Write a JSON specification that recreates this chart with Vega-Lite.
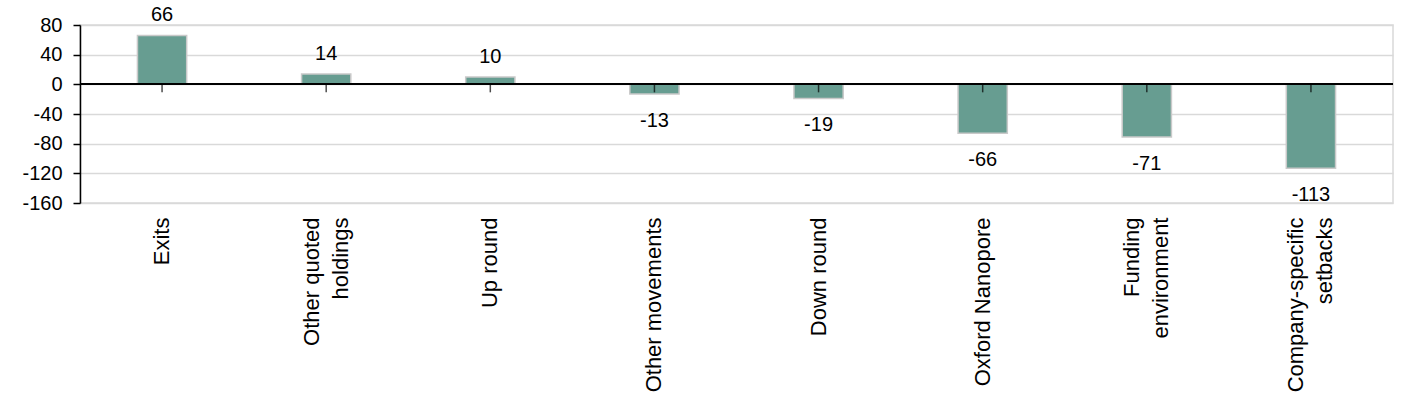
{
  "$schema": "https://vega.github.io/schema/vega-lite/v6.json",
  "autosize": "none",
  "padding": {"left": 80, "top": 25, "right": 10, "bottom": 195},
  "width": 1313,
  "height": 178,
  "background": "white",
  "config": {
    "view": {"stroke": "#d9d9d9", "strokeWidth": 1.5},
    "font": "Liberation Sans",
    "axis": {"labelFont": "Liberation Sans", "labelColor": "black"}
  },
  "data": {
    "values": [
      {"category": "Exits", "value": 66},
      {"category": "Other quoted holdings", "value": 14},
      {"category": "Up round", "value": 10},
      {"category": "Other movements", "value": -13},
      {"category": "Down round", "value": -19},
      {"category": "Oxford Nanopore", "value": -66},
      {"category": "Funding environment", "value": -71},
      {"category": "Company-specific setbacks", "value": -113}
    ]
  },
  "encoding": {
    "x": {
      "field": "category",
      "type": "nominal",
      "sort": null,
      "scale": {"paddingInner": 0.7, "paddingOuter": 0.35},
      "axis": {
        "title": null,
        "domain": false,
        "ticks": false,
        "labelAngle": 270,
        "labelAlign": "right",
        "labelBaseline": "middle",
        "labelPadding": 14,
        "labelFontSize": 22,
        "labelLineHeight": 29,
        "labelLimit": 300,
        "labelOverlap": false,
        "labelOffset": {"condition": {"test": "datum.value == 'Other quoted holdings' || datum.value == 'Funding environment' || datum.value == 'Company-specific setbacks'", "value": -14.5}, "value": 0},
        "labelExpr": "datum.label == 'Other quoted holdings' ? ['Other quoted', 'holdings'] : datum.label == 'Funding environment' ? ['Funding', 'environment'] : datum.label == 'Company-specific setbacks' ? ['Company-specific', 'setbacks'] : datum.label"
      }
    },
    "y": {
      "field": "value",
      "type": "quantitative",
      "scale": {"domain": [-160, 80], "nice": false},
      "axis": {
        "title": null,
        "values": [-160, -120, -80, -40, 0, 40, 80],
        "labelOverlap": false,
        "labelExpr": "'' + datum.value",
        "domainColor": "black",
        "domainWidth": 1.5,
        "tickColor": "black",
        "tickWidth": 1.5,
        "tickSize": 7,
        "labelFontSize": 20,
        "labelPadding": 11,
        "gridColor": "#d9d9d9",
        "gridWidth": 1.5
      }
    }
  },
  "layer": [
    {
      "mark": {"type": "bar", "color": "#679d91", "stroke": "#c9c9c9", "strokeWidth": 1.5}
    },
    {
      "mark": {"type": "rule", "color": "black", "strokeWidth": 1.5},
      "encoding": {
        "x": null,
        "y": {
          "datum": 0,
          "type": "quantitative",
          "scale": {"domain": [-160, 80], "nice": false},
          "axis": {
            "title": null,
            "values": [-160, -120, -80, -40, 0, 40, 80],
            "labelOverlap": false,
            "labelExpr": "'' + datum.value",
            "domainColor": "black",
            "domainWidth": 1.5,
            "tickColor": "black",
            "tickWidth": 1.5,
            "tickSize": 7,
            "labelFontSize": 20,
            "labelPadding": 11,
            "gridColor": "#d9d9d9",
            "gridWidth": 1.5
          }
        }
      }
    },
    {
      "mark": {"type": "tick", "orient": "vertical", "color": "black", "thickness": 1.5, "size": 8, "yOffset": 4},
      "encoding": {
        "y": {
          "datum": 0,
          "type": "quantitative",
          "scale": {"domain": [-160, 80], "nice": false},
          "axis": {
            "title": null,
            "values": [-160, -120, -80, -40, 0, 40, 80],
            "labelOverlap": false,
            "labelExpr": "'' + datum.value",
            "domainColor": "black",
            "domainWidth": 1.5,
            "tickColor": "black",
            "tickWidth": 1.5,
            "tickSize": 7,
            "labelFontSize": 20,
            "labelPadding": 11,
            "gridColor": "#d9d9d9",
            "gridWidth": 1.5
          }
        }
      }
    },
    {
      "transform": [{"filter": "datum.value >= 0"}],
      "mark": {"type": "text", "baseline": "alphabetic", "dy": -14, "fontSize": 20, "color": "black"},
      "encoding": {
        "text": {"field": "value", "type": "nominal"}
      }
    },
    {
      "transform": [{"filter": "datum.value < 0"}],
      "mark": {"type": "text", "baseline": "top", "dy": 17, "fontSize": 20, "color": "black"},
      "encoding": {
        "text": {"field": "value", "type": "nominal"}
      }
    }
  ]
}
